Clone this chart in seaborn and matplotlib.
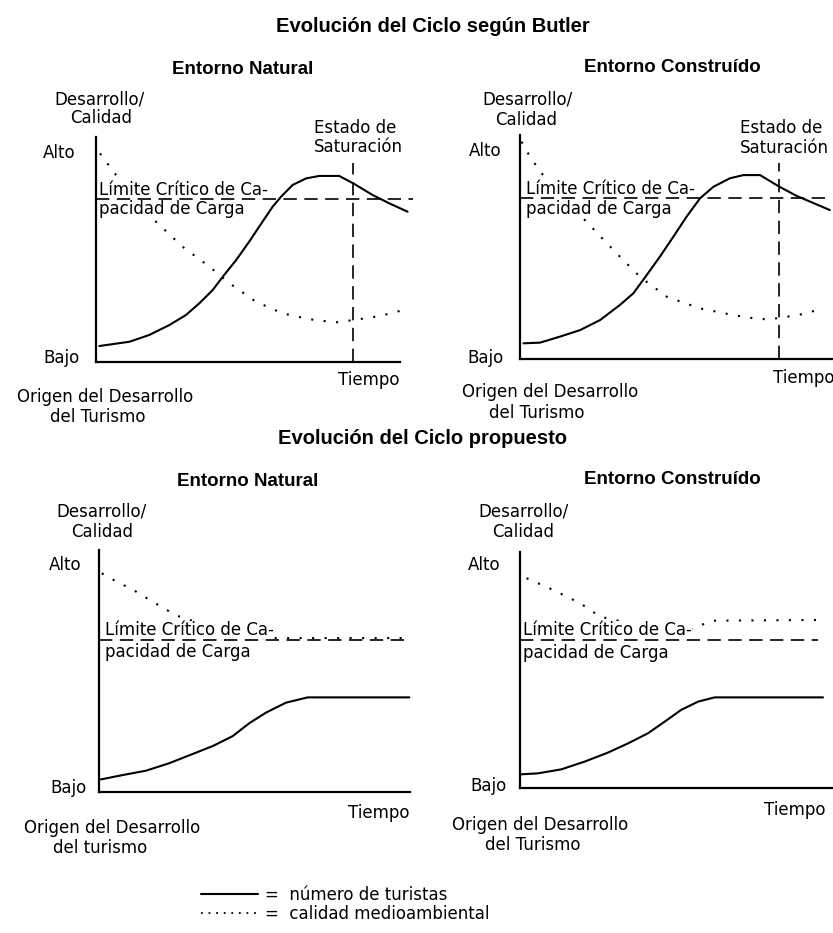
import matplotlib
matplotlib.use("Agg")
import matplotlib.pyplot as plt
from matplotlib.lines import Line2D
import seaborn as sns

# ---------------- data ----------------
# Panel 1 - Ciclo según Butler, Entorno Natural
b_nat_t = [0.11, 1.10, 1.75, 2.41, 2.96, 3.40, 3.84, 4.17, 4.61, 5.04, 5.48, 5.81, 6.09,
           6.47, 6.91, 7.35, 8.00, 8.50, 9.10, 9.65, 10.25]
b_nat_tur = [0.71, 0.90, 1.20, 1.64, 2.09, 2.61, 3.20, 3.79, 4.53, 5.35, 6.24, 6.90, 7.35,
             7.87, 8.16, 8.27, 8.27, 7.91, 7.42, 7.05, 6.68]
b_nat_qt = [0.13, 0.66, 1.97, 2.85, 3.73, 4.39, 5.26, 6.14, 7.02, 7.89, 8.50, 9.32, 10.03]
b_nat_q = [9.27, 8.31, 6.24, 5.12, 4.24, 3.50, 2.68, 2.16, 1.90, 1.76, 1.87, 2.04, 2.28]
b_nat_lim = [7.24, 10.43]      # level, end of line
b_nat_sat = [8.45, 8.84]       # time, top of line

# Panel 2 - Ciclo según Butler, Entorno Construído
b_con_t = [0.11, 0.64, 1.28, 1.92, 2.56, 3.19, 3.62, 4.05, 4.47, 4.90, 5.32, 5.75, 6.18,
           6.71, 7.14, 7.67, 8.25, 8.84, 9.90]
b_con_tur = [0.70, 0.73, 1.00, 1.29, 1.74, 2.41, 2.93, 3.75, 4.57, 5.46, 6.35, 7.17, 7.69,
             8.07, 8.21, 8.21, 7.72, 7.28, 6.65]
b_con_qt = [0.05, 0.32, 0.69, 2.02, 2.98, 3.83, 4.69, 5.75, 6.82, 7.67, 8.25, 9.05, 9.69]
b_con_q = [9.70, 9.03, 8.29, 6.28, 4.87, 3.67, 2.78, 2.26, 1.96, 1.77, 1.82, 2.01, 2.26]
b_con_lim = [7.19, 9.78]
b_con_sat = [8.27, 8.75]

# Panel 3 - Ciclo propuesto, Entorno Natural
p_nat_t = [0.06, 0.76, 1.51, 2.26, 3.01, 3.66, 4.30, 4.83, 5.37, 6.01, 6.71, 9.98]
p_nat_tur = [0.52, 0.70, 0.88, 1.19, 1.57, 1.90, 2.31, 2.84, 3.28, 3.69, 3.91, 3.91]
p_nat_qt = [0.09, 0.57, 1.10, 1.64, 2.18, 2.60, 4.75, 9.87]
p_nat_q = [9.04, 8.69, 8.35, 7.93, 7.52, 7.24, 6.36, 6.36]
p_nat_lim = [6.28, 9.87]

# Panel 4 - Ciclo propuesto, Entorno Construído
p_con_t = [0.04, 0.57, 1.32, 2.07, 2.81, 3.45, 4.09, 4.62, 5.15, 5.69, 6.22, 9.68]
p_con_tur = [0.58, 0.62, 0.79, 1.12, 1.50, 1.89, 2.32, 2.81, 3.31, 3.66, 3.84, 3.84]
p_con_qt = [0.21, 1.06, 1.92, 2.56, 4.30, 5.33, 5.65, 6.17, 9.58]
p_con_q = [8.89, 8.39, 7.83, 7.26, 6.75, 6.69, 6.84, 7.09, 7.12]
p_con_lim = [6.27, 9.52]

titles = ["Evolución del Ciclo según Butler", "Evolución del Ciclo propuesto"]
subtitles = ["Entorno Natural", "Entorno Construído"]
legend_labels = ["=  número de turistas", "=  calidad medioambiental"]

# ---------------- styling ----------------
sns.set_theme(style="white")
plt.rcParams['font.family'] = ['DejaVu Sans']
FS = 12
TITLE_FONT = ['Liberation Sans', 'DejaVu Sans']

W, H = 833, 933
fig = plt.figure(figsize=(W / 100, H / 100), dpi=100)
fig.patch.set_facecolor('white')


def fx(x):
    return x / W


def fy(y):
    return 1 - y / H


def txt(x, y, s, ha='left', **kw):
    kw.setdefault('fontsize', FS)
    fig.text(fx(x), fy(y), s, ha=ha, va='center', color='black', **kw)


SOLID = dict(color='black', linewidth=1.5)
DOT = dict(color='black', linewidth=1.5, linestyle=(0, (1, 5)))
DASH = dict(color='black', linewidth=1.2, linestyle=(0, (8, 4.5)))


def panel(box, t, tur, qt, q, lim, sat=None):
    l, r, tp, b = box
    ax = fig.add_axes([l / W, 1 - b / H, (r - l) / W, (b - tp) / H])
    ax.set_xlim(0, 10)
    ax.set_ylim(0, 10)
    ax.set_xticks([])
    ax.set_yticks([])
    ax.patch.set_alpha(0)
    for s in ['top', 'right']:
        ax.spines[s].set_visible(False)
    for s in ['left', 'bottom']:
        ax.spines[s].set_color('black')
        ax.spines[s].set_linewidth(1.6)
    sns.lineplot(x=qt, y=q, ax=ax, sort=False, estimator=None, clip_on=False, zorder=2, **DOT)
    sns.lineplot(x=t, y=tur, ax=ax, sort=False, estimator=None, clip_on=False, zorder=2.5, **SOLID)
    sns.lineplot(x=[0, lim[1]], y=[lim[0], lim[0]], ax=ax, sort=False, estimator=None,
                 clip_on=False, zorder=4, **DASH)
    if sat is not None:
        sns.lineplot(x=[sat[0], sat[0]], y=[0, sat[1]], ax=ax, sort=False, estimator=None,
                     orient='y', clip_on=False, zorder=4, **DASH)
    return ax


def limit_label(ax, x, y1, y2):
    for y, s in [(y1, "Límite Crítico de Ca-"), (y2, "pacidad de Carga")]:
        ax.text(fx(x), fy(y), s, transform=fig.transFigure, ha='left', va='center',
                fontsize=FS, color='black', zorder=3,
                bbox=dict(facecolor='white', edgecolor='none', pad=0))


# ---------------- titles ----------------
txt(433, 26, titles[0], ha='center', fontsize=14.5, fontweight='bold', family=TITLE_FONT)
txt(422, 438, titles[1], ha='center', fontsize=14.5, fontweight='bold', family=TITLE_FONT)
txt(243, 70, subtitles[0], ha='center', fontsize=13.5, fontweight='bold', family=TITLE_FONT)
txt(672, 67, subtitles[1], ha='center', fontsize=13.5, fontweight='bold', family=TITLE_FONT)
txt(248, 482, subtitles[0], ha='center', fontsize=13.5, fontweight='bold', family=TITLE_FONT)
txt(672, 480, subtitles[1], ha='center', fontsize=13.5, fontweight='bold', family=TITLE_FONT)

# ---------------- panels ----------------
ax1 = panel((96, 400, 137, 362), b_nat_t, b_nat_tur, b_nat_qt, b_nat_q, b_nat_lim, b_nat_sat)
limit_label(ax1, 99, 190, 209)
txt(100, 100, "Desarrollo/", ha='center')
txt(101, 118, "Calidad", ha='center')
txt(355, 128, "Estado de", ha='center')
txt(358, 147, "Saturación", ha='center')
txt(43, 153, "Alto")
txt(43, 358, "Bajo")
txt(400, 380, "Tiempo", ha='right')
txt(105, 397, "Origen del Desarrollo", ha='center')
txt(98, 417, "del Turismo", ha='center')

ax2 = panel((520, 833, 135, 359), b_con_t, b_con_tur, b_con_qt, b_con_q, b_con_lim, b_con_sat)
limit_label(ax2, 526, 189, 209)
txt(527, 100, "Desarrollo/", ha='center')
txt(526, 120, "Calidad", ha='center')
txt(781, 128, "Estado de", ha='center')
txt(784, 148, "Saturación", ha='center')
txt(469, 151, "Alto")
txt(467, 358, "Bajo")
txt(773, 378, "Tiempo", ha='left')
txt(550, 392, "Origen del Desarrollo", ha='center')
txt(537, 413, "del Turismo", ha='center')

ax3 = panel((99, 410, 550, 792), p_nat_t, p_nat_tur, p_nat_qt, p_nat_q, p_nat_lim)
limit_label(ax3, 105, 630, 652)
txt(102, 512, "Desarrollo/", ha='center')
txt(102, 532, "Calidad", ha='center')
txt(49, 565, "Alto")
txt(50, 788, "Bajo")
txt(410, 813, "Tiempo", ha='right')
txt(112, 828, "Origen del Desarrollo", ha='center')
txt(100, 848, "del turismo", ha='center')

ax4 = panel((520, 833, 552, 788), p_con_t, p_con_tur, p_con_qt, p_con_q, p_con_lim)
limit_label(ax4, 523, 630, 653)
txt(523, 512, "Desarrollo/", ha='center')
txt(523, 532, "Calidad", ha='center')
txt(468, 565, "Alto")
txt(470, 786, "Bajo")
txt(825, 810, "Tiempo", ha='right')
txt(540, 825, "Origen del Desarrollo", ha='center')
txt(533, 845, "del Turismo", ha='center')

# ---------------- legend ----------------
h_solid = Line2D([], [], color='black', linewidth=1.5)
h_dot = Line2D([], [], color='black', linewidth=1.3, linestyle=(0, (1, 3.2)))
fig.legend(handles=[h_solid, h_dot], labels=legend_labels, loc='upper left',
           bbox_to_anchor=(fx(201), fy(886)), frameon=False, fontsize=FS,
           labelcolor='black', handlelength=3.4, handletextpad=0.45, labelspacing=0.05,
           borderaxespad=0, borderpad=0)

fig.savefig("out.png", dpi=100, facecolor='white')
